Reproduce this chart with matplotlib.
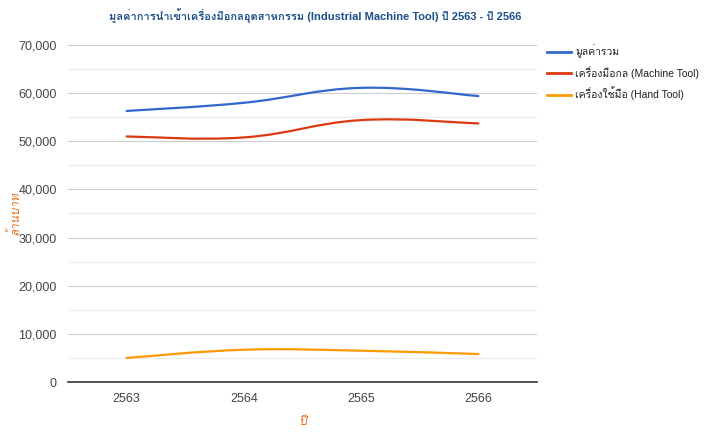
import numpy as np
import matplotlib
matplotlib.use("Agg")
import matplotlib.pyplot as plt
from matplotlib import font_manager
from matplotlib.ft2font import FT2Font
from matplotlib.path import Path
from matplotlib.patches import PathPatch
from matplotlib.ticker import FuncFormatter, MultipleLocator

years = ["2563", "2564", "2565", "2566"]
total = [56300, 58000, 61100, 59400]
machine_tool = [51000, 50800, 54400, 53700]
hand_tool = [5000, 6700, 6500, 5800]

series_names = ["มูลค่ารวม", "เครื่องมือกล (Machine Tool)", "เครื่องใช้มือ (Hand Tool)"]
series_colors = ["#3366cc", "#dc3912", "#ff9900"]
title = "มูลค่าการนำเข้าเครื่องมือกลอุตสาหกรรม (Industrial Machine Tool) ปี 2563 - ปี 2566"


def find_thai_font():
    # look for any installed font that can draw Thai
    for f in font_manager.fontManager.ttflist:
        try:
            if ord("ก") in FT2Font(f.fname).get_charmap():
                return f.name
        except Exception:
            pass
    return None


thai = find_thai_font()
fams = ["Liberation Sans", "DejaVu Sans"]
if thai:
    fams = ["Liberation Sans", thai, "DejaVu Sans"]
plt.rcParams["font.family"] = fams


def smooth_path(xs, ys, k=0.2):
    # catmull-rom style bezier through the data points
    verts = [(xs[0], ys[0])]
    codes = [Path.MOVETO]
    n = len(xs)
    for i in range(n - 1):
        x0, y0 = (xs[i - 1], ys[i - 1]) if i > 0 else (xs[i], ys[i])
        x3, y3 = (xs[i + 2], ys[i + 2]) if i + 2 < n else (xs[i + 1], ys[i + 1])
        c1 = (xs[i] + k * (xs[i + 1] - x0), ys[i] + k * (ys[i + 1] - y0))
        c2 = (xs[i + 1] - k * (x3 - xs[i]), ys[i + 1] - k * (y3 - ys[i]))
        verts += [c1, c2, (xs[i + 1], ys[i + 1])]
        codes += [Path.CURVE4] * 3
    return Path(verts, codes)


fig = plt.figure(figsize=(7.06, 4.36), dpi=100)
ax = fig.add_axes([68 / 706, 1 - 382 / 436, 469 / 706, 337 / 436])

x = np.arange(len(years))
for vals, name, col in zip([total, machine_tool, hand_tool], series_names, series_colors):
    ax.add_patch(PathPatch(smooth_path(x, vals), facecolor="none", edgecolor=col,
                           lw=1.6, capstyle="round"))
    ax.plot([], [], color=col, lw=2, label=name)

ax.set_xlim(-0.5, 3.5)
ax.set_ylim(0, 70000)
ax.set_xticks(x)
ax.set_xticklabels(years)
ax.yaxis.set_major_locator(MultipleLocator(10000))
ax.yaxis.set_minor_locator(MultipleLocator(5000))
ax.yaxis.set_major_formatter(FuncFormatter(lambda v, p: f"{int(v):,}"))
ax.grid(axis="y", which="major", color="#cccccc", lw=0.8)
ax.grid(axis="y", which="minor", color="#ebebeb", lw=0.8)
ax.set_axisbelow(True)
for s in ["top", "right", "left"]:
    ax.spines[s].set_visible(False)
ax.spines["bottom"].set_color("#333333")
ax.spines["bottom"].set_linewidth(1.2)
ax.tick_params(axis="both", which="both", length=0, labelsize=9, colors="#444444")
ax.tick_params(axis="y", pad=8)
ax.tick_params(axis="x", pad=8)

ax.set_xlabel("ปี", color="#e8711a", fontsize=9, style="italic", labelpad=8)
ax.set_ylabel("ล้านบาท", color="#e8711a", fontsize=8.5, style="italic")
ax.yaxis.set_label_coords(-0.1, 0.5)

fig.text(315 / 706, 1 - 16 / 436, title, ha="center", va="center",
         fontsize=8, fontweight="bold", color="#1c4f8c")

fig.legend(loc="upper left", bbox_to_anchor=(543 / 706, 1 - 40 / 436), frameon=False,
           fontsize=7.5, handlelength=2.3, handletextpad=0.4, labelspacing=0.75,
           labelcolor="#222222", borderaxespad=0)

fig.savefig("out.png", dpi=100)
